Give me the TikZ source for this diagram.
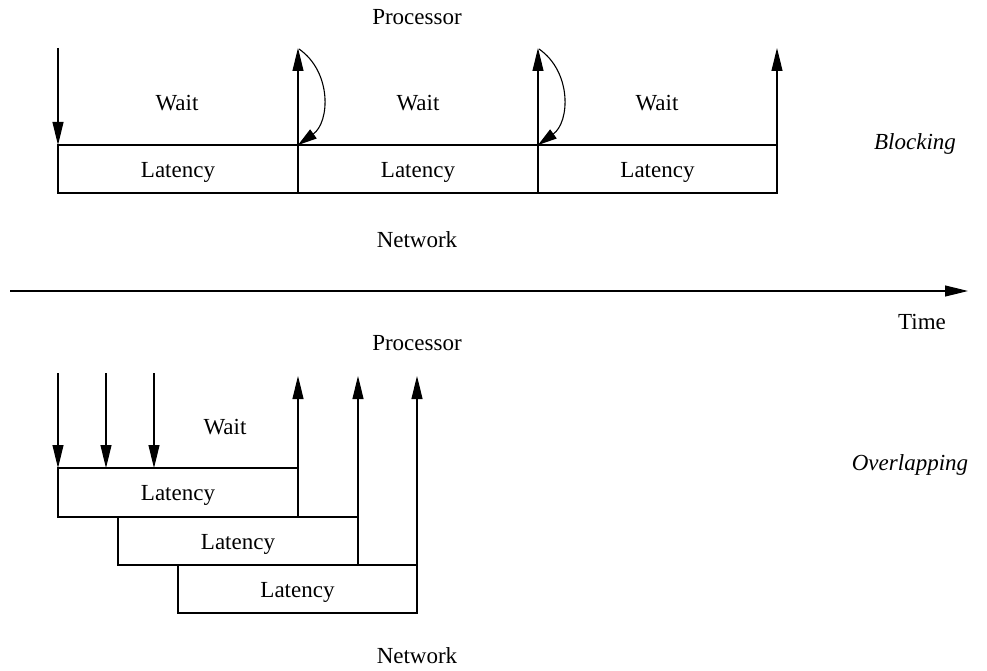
\documentclass[tikz,border=0pt]{standalone}
\usepackage{fontspec}
\setmainfont{Liberation Serif}
\usetikzlibrary{arrows.meta}
\begin{document}
\begin{tikzpicture}[x=1pt,y=-1pt,
  lbl/.style={font=\fontsize{23}{27}\selectfont, inner sep=0pt},
  ilbl/.style={font=\fontsize{23}{27}\selectfont\itshape, inner sep=0pt},
  box/.style={draw, line width=1.1pt},
  blbl/.style={lbl, yshift=-3pt},
  arr/.style={line width=1.1pt, -{Triangle[length=23pt,width=11pt]}},
  carr/.style={line width=1.1pt, -{Triangle[length=19pt,width=11pt]}}]
\useasboundingbox (0,0) rectangle (987,671);
% ---------- Blocking ----------
\node[lbl] (proc1) at (417,17) {Processor};
\node[lbl] (net1) at (417,240) {Network};
\node[ilbl] (blk) at (915,144) {Blocking};
\draw[box] (58,145) rectangle (298,193) node[pos=.5,blbl] (l1) {Latency};
\draw[box] (298,145) rectangle (538,193) node[pos=.5,blbl] (l2) {Latency};
\draw[box] (538,145) rectangle (777,193) node[pos=.5,blbl] (l3) {Latency};
\node[lbl] (w1) at (177,103) {Wait};
\node[lbl] (w2) at (418,103) {Wait};
\node[lbl] (w3) at (657,103) {Wait};
\coordinate (d1s) at (58,48); \coordinate (d1e) at (58,145);
\coordinate (u1s) at (298,145); \coordinate (u1e) at (298,48);
\coordinate (u2s) at (538,145); \coordinate (u2e) at (538,48);
\coordinate (u3s) at (777,145); \coordinate (u3e) at (777,48);
\draw[arr] (d1s) -- (d1e);
\draw[arr] (u1s) -- (u1e);
\draw[arr] (u2s) -- (u2e);
\draw[arr] (u3s) -- (u3e);
\draw[carr] (299,49) .. controls (332,72) and (330,122) .. (298,145);
\draw[carr] (539,49) .. controls (572,72) and (570,122) .. (538,145);
% ---------- Time axis ----------
\coordinate (ts) at (10,291); \coordinate (te) at (968,291);
\draw[arr] (ts) -- (te);
\node[lbl] (time) at (922,322) {Time};
% ---------- Overlapping ----------
\node[lbl] (proc2) at (417,343) {Processor};
\node[lbl] (net2) at (417,656) {Network};
\node[ilbl] (ovl) at (910,465) {Overlapping};
\node[lbl] (w4) at (225,427) {Wait};
\draw[box] (58,468) rectangle (298,517) node[pos=.5,blbl] (l4) {Latency};
\draw[box] (118,517) rectangle (358,565) node[pos=.5,blbl] (l5) {Latency};
\draw[box] (178,565) rectangle (417,613) node[pos=.5,blbl] (l6) {Latency};
\coordinate (a1s) at (58,373); \coordinate (a1e) at (58,468);
\coordinate (a2s) at (106,373); \coordinate (a2e) at (106,468);
\coordinate (a3s) at (154,373); \coordinate (a3e) at (154,468);
\draw[arr] (a1s) -- (a1e);
\draw[arr] (a2s) -- (a2e);
\draw[arr] (a3s) -- (a3e);
\coordinate (b1s) at (298,468); \coordinate (b1e) at (298,376);
\coordinate (b2s) at (358,517); \coordinate (b2e) at (358,376);
\coordinate (b3s) at (417,565); \coordinate (b3e) at (417,376);
\draw[arr] (b1s) -- (b1e);
\draw[arr] (b2s) -- (b2e);
\draw[arr] (b3s) -- (b3e);
\end{tikzpicture}
\end{document}
